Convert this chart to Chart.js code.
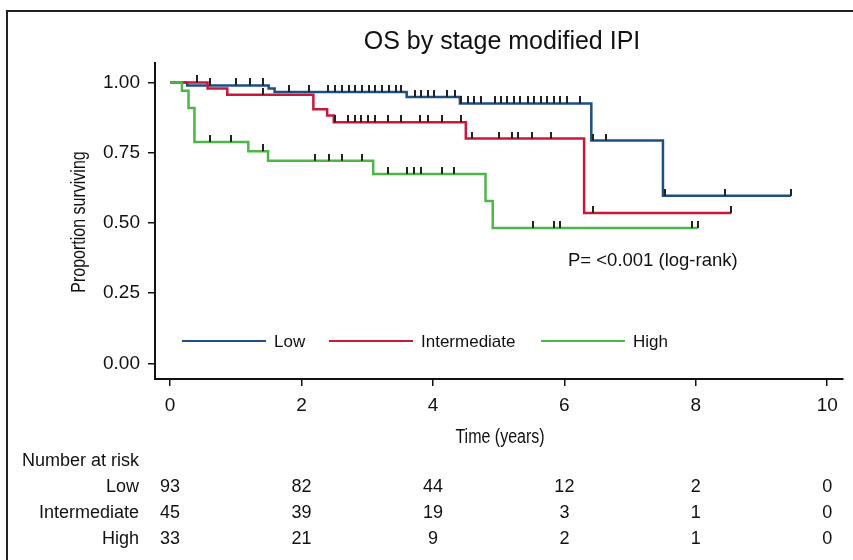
<!DOCTYPE html>
<html>
<head>
<meta charset="utf-8">
<script src="https://cdn.jsdelivr.net/npm/chart.js@4"></script>
<style>
  html, body { margin: 0; padding: 0; background: #fff; }
  #wrap { width: 853px; height: 560px; position: relative; }
</style>
</head>
<body>
<div id="wrap"><canvas id="osChart"></canvas></div>
<script>
// Kaplan-Meier steps: time of each drop and survival after it (last point = end of follow-up)
var lowTimes = [0, 0.26, 1.50, 1.59, 3.60, 4.41, 6.41, 7.50, 9.45];
var lowSurv = [1.0, 0.989, 0.978, 0.966, 0.948, 0.925, 0.793, 0.596, 0.596];
var intTimes = [0, 0.57, 0.87, 2.18, 2.39, 2.49, 4.50, 6.30, 8.54];
var intSurv = [1.0, 0.978, 0.956, 0.904, 0.882, 0.858, 0.80, 0.535, 0.535];
var highTimes = [0, 0.18, 0.28, 0.37, 1.19, 1.49, 3.09, 4.80, 4.91, 8.03];
var highSurv = [1.0, 0.970, 0.909, 0.788, 0.755, 0.721, 0.674, 0.578, 0.482, 0.482];

// censoring times
var lowCensor = [0.60, 1.01, 1.22, 1.42, 1.81, 2.11, 2.41, 2.51, 2.62, 2.72, 2.82, 2.92,
  3.02, 3.12, 3.23, 3.33, 3.43, 3.51, 3.73, 3.82, 3.92, 4.02, 4.22, 4.33, 4.43, 4.53,
  4.63, 4.73, 4.94, 5.04, 5.13, 5.23, 5.33, 5.44, 5.54, 5.64, 5.74, 5.84, 5.94, 6.04,
  6.24, 6.43, 6.63, 7.53, 8.44, 9.45];
var intCensor = [0.41, 1.42, 2.51, 2.71, 2.81, 2.91, 3.01, 3.12, 3.32, 3.51, 3.81, 3.92,
  4.13, 4.43, 4.59, 5.01, 5.21, 5.29, 5.50, 5.80, 6.43, 8.54];
var highCensor = [0.60, 0.92, 1.42, 2.21, 2.42, 2.62, 2.92, 3.32, 3.61, 3.71, 3.82, 4.13,
  4.32, 5.52, 5.84, 5.93, 7.94, 8.03];

// number at risk table
var riskTimes = [0, 2, 4, 6, 8, 10];
var riskLow = [93, 82, 44, 12, 2, 0];
var riskInt = [45, 39, 19, 3, 1, 0];
var riskHigh = [33, 21, 9, 2, 1, 0];

var xTicks = [0, 2, 4, 6, 8, 10];
var yTicks = [0, 0.25, 0.5, 0.75, 1];

var blue = "#1d4f82";
var red = "#c8193c";
var green = "#4cb648";

var sans = '"Liberation Sans", Arial, sans-serif';

function toPoints(times, surv) {
  return times.map(function (t, i) { return { x: t, y: surv[i] }; });
}

function survivalAt(times, surv, t) {
  var s = surv[0];
  for (var i = 0; i < times.length; i++) {
    if (times[i] <= t) s = surv[i];
  }
  return s;
}

function censorPoints(censor, times, surv) {
  return censor.map(function (t) { return { x: t, y: survivalAt(times, surv, t) }; });
}

// condensed look: squeeze regular sans horizontally
function narrowText(ctx, text, x, y, angle) {
  ctx.save();
  ctx.translate(x, y);
  ctx.rotate(angle);
  ctx.scale(0.8, 1);
  ctx.font = "20px " + sans;
  ctx.textAlign = "center";
  ctx.fillText(text, 0, 0);
  ctx.restore();
}

// small vertical mark sitting on top of the curve
var tickMark = document.createElement("canvas");
tickMark.width = 2;
tickMark.height = 14;
var tctx = tickMark.getContext("2d");
tctx.fillStyle = "#222";
tctx.fillRect(0, 0, 2, 7);

var extras = {
  id: "extras",
  beforeDraw: function (chart) {
    var ctx = chart.ctx;
    ctx.save();
    ctx.fillStyle = "#fff";
    ctx.fillRect(0, 0, chart.width, chart.height);
    ctx.strokeStyle = "#222";
    ctx.lineWidth = 2;
    ctx.strokeRect(7, 11, 900, 600);
    ctx.restore();
  },
  afterDraw: function (chart) {
    var ctx = chart.ctx;
    var xs = chart.scales.x;
    ctx.save();
    ctx.fillStyle = "#111";
    ctx.textBaseline = "middle";

    // title
    ctx.font = "25px " + sans;
    ctx.textAlign = "center";
    ctx.fillText("OS by stage modified IPI", 502, 42);

    // axis titles
    narrowText(ctx, "Time (years)", 500, 437, 0);
    narrowText(ctx, "Proportion surviving", 79, 222, -Math.PI / 2);

    // p value
    ctx.font = "18.5px " + sans;
    ctx.textAlign = "left";
    ctx.fillText("P= <0.001 (log-rank)", 568, 261);

    // legend
    var legend = [
      { label: "Low", color: blue, x0: 182, x1: 266 },
      { label: "Intermediate", color: red, x0: 329, x1: 413 },
      { label: "High", color: green, x0: 541, x1: 625 }
    ];
    ctx.font = "17px " + sans;
    legend.forEach(function (item) {
      ctx.strokeStyle = item.color;
      ctx.lineWidth = 2;
      ctx.beginPath();
      ctx.moveTo(item.x0, 341);
      ctx.lineTo(item.x1, 341);
      ctx.stroke();
      ctx.fillText(item.label, item.x1 + 8, 342);
    });

    // number at risk
    ctx.font = "18px " + sans;
    ctx.textAlign = "left";
    ctx.fillText("Number at risk", 22, 461);
    var rows = [
      { label: "Low", values: riskLow, y: 487 },
      { label: "Intermediate", values: riskInt, y: 513 },
      { label: "High", values: riskHigh, y: 539 }
    ];
    rows.forEach(function (row) {
      ctx.textAlign = "right";
      ctx.fillText(row.label, 139, row.y);
      ctx.textAlign = "center";
      row.values.forEach(function (v, i) {
        ctx.fillText(String(v), xs.getPixelForValue(riskTimes[i]), row.y);
      });
    });
    ctx.restore();
  }
};

var ctx = document.getElementById("osChart").getContext("2d");

new Chart(ctx, {
  type: "line",
  data: {
    datasets: [
      {
        label: "Low censored",
        type: "scatter",
        data: censorPoints(lowCensor, lowTimes, lowSurv),
        pointStyle: tickMark,
        pointRadius: 3,
        order: 0
      },
      {
        label: "Intermediate censored",
        type: "scatter",
        data: censorPoints(intCensor, intTimes, intSurv),
        pointStyle: tickMark,
        pointRadius: 3,
        order: 0
      },
      {
        label: "High censored",
        type: "scatter",
        data: censorPoints(highCensor, highTimes, highSurv),
        pointStyle: tickMark,
        pointRadius: 3,
        order: 0
      },
      {
        label: "High",
        data: toPoints(highTimes, highSurv),
        borderColor: green,
        borderWidth: 2.5,
        stepped: "before",
        pointRadius: 0,
        fill: false,
        order: 1
      },
      {
        label: "Intermediate",
        data: toPoints(intTimes, intSurv),
        borderColor: red,
        borderWidth: 2.5,
        stepped: "before",
        pointRadius: 0,
        fill: false,
        order: 2
      },
      {
        label: "Low",
        data: toPoints(lowTimes, lowSurv),
        borderColor: blue,
        borderWidth: 2.5,
        stepped: "before",
        pointRadius: 0,
        fill: false,
        order: 3
      }
    ]
  },
  options: {
    responsive: true,
    maintainAspectRatio: false,
    animation: false,
    layout: { padding: { top: 63, right: 10, left: 0, bottom: 0 } },
    plugins: {
      legend: { display: false },
      tooltip: { enabled: false },
      title: { display: false }
    },
    scales: {
      x: {
        type: "linear",
        min: -0.23,
        max: 10.24,
        afterBuildTicks: function (scale) {
          scale.ticks = xTicks.map(function (v) { return { value: v }; });
        },
        afterFit: function (scale) { scale.height = 181; },
        grid: { drawOnChartArea: false, color: "#111", lineWidth: 1.5, tickLength: 7 },
        border: { display: true, color: "#111", width: 2 },
        ticks: { color: "#111", padding: 8, maxRotation: 0, font: { family: sans, size: 19 } }
      },
      y: {
        type: "linear",
        min: -0.056,
        max: 1.069,
        afterBuildTicks: function (scale) {
          scale.ticks = yTicks.map(function (v) { return { value: v }; });
        },
        afterFit: function (scale) { scale.width = 155; },
        grid: { drawOnChartArea: false, color: "#111", lineWidth: 1.5, tickLength: 7 },
        border: { display: true, color: "#111", width: 2 },
        ticks: {
          color: "#111",
          padding: 8,
          font: { family: sans, size: 19 },
          callback: function (v) { return Number(v).toFixed(2); }
        }
      }
    }
  },
  plugins: [extras]
});
</script>
</body>
</html>
